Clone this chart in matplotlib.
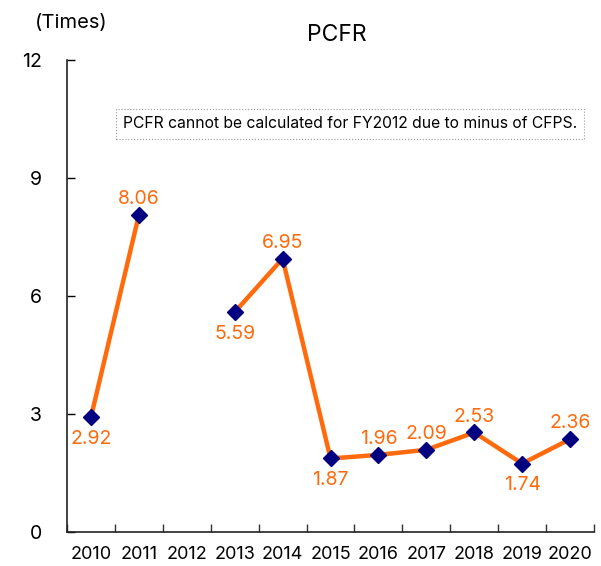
import matplotlib
matplotlib.use("Agg")
import matplotlib.pyplot as plt
import numpy as np

plt.rcParams['font.family'] = ['Inter', 'DejaVu Sans']

years = ['2010', '2011', '2012', '2013', '2014', '2015', '2016', '2017', '2018', '2019', '2020']
pcfr = [2.92, 8.06, None, 5.59, 6.95, 1.87, 1.96, 2.09, 2.53, 1.74, 2.36]
label_pos = ['below', 'above', None, 'below', 'above', 'below', 'above', 'above', 'above', 'below', 'above']
yticks = [0, 3, 6, 9, 12]

orange = '#FF6A0D'
navy = '#000080'

fig = plt.figure(figsize=(6.01, 5.66), dpi=100)
ax = fig.add_axes([67/601, 1 - 532/566, (594 - 67)/601, (532 - 60)/566])

x = np.arange(len(years))
y = np.array([np.nan if v is None else v for v in pcfr])
ax.plot(x, y, color=orange, lw=3.2, zorder=2)
ax.plot(x, y, ls='none', marker='D', color=navy, markersize=8, zorder=3)

for xi, v, pos in zip(x, pcfr, label_pos):
    if v is None:
        continue
    if pos == 'above':
        ax.annotate(f'{v:.2f}', (xi, v), xytext=(0, 5), textcoords='offset points',
                    ha='center', va='bottom', color=orange, fontsize=14)
    else:
        ax.annotate(f'{v:.2f}', (xi, v), xytext=(0, -9), textcoords='offset points',
                    ha='center', va='top', color=orange, fontsize=14)

ax.set_xlim(-0.5, len(years) - 0.5)
ax.set_ylim(0, 12)
ax.set_yticks(yticks)
ax.set_yticklabels([str(t) for t in yticks], fontsize=14)
ax.set_xticks(x)
ax.set_xticklabels(years, fontsize=13)
ax.tick_params(axis='x', length=0, pad=10)
ax.set_xticks(np.arange(-0.5, len(years)), minor=True)
ax.tick_params(axis='x', which='minor', direction='in', length=6, width=1, color='#333333')
ax.tick_params(axis='y', direction='in', length=6, width=1, pad=18)

for s in ['top', 'right']:
    ax.spines[s].set_visible(False)
for s in ['left', 'bottom']:
    ax.spines[s].set_linewidth(1.2)
    ax.spines[s].set_color('#222222')

fig.text(337/601, 1 - 35/566, 'PCFR', ha='center', va='center', fontsize=16.5)
fig.text(71/601, 1 - 23/566, '(Times)', ha='center', va='center', fontsize=14.5)

ax.text(350/601, 1 - 124/566, 'PCFR cannot be calculated for FY2012 due to minus of CFPS.',
        transform=fig.transFigure, ha='center', va='center', fontsize=11.3,
        bbox=dict(boxstyle='square,pad=0.45', fc='white', ec='#999999', ls=':', lw=0.8))

fig.savefig('out.png', dpi=100)
